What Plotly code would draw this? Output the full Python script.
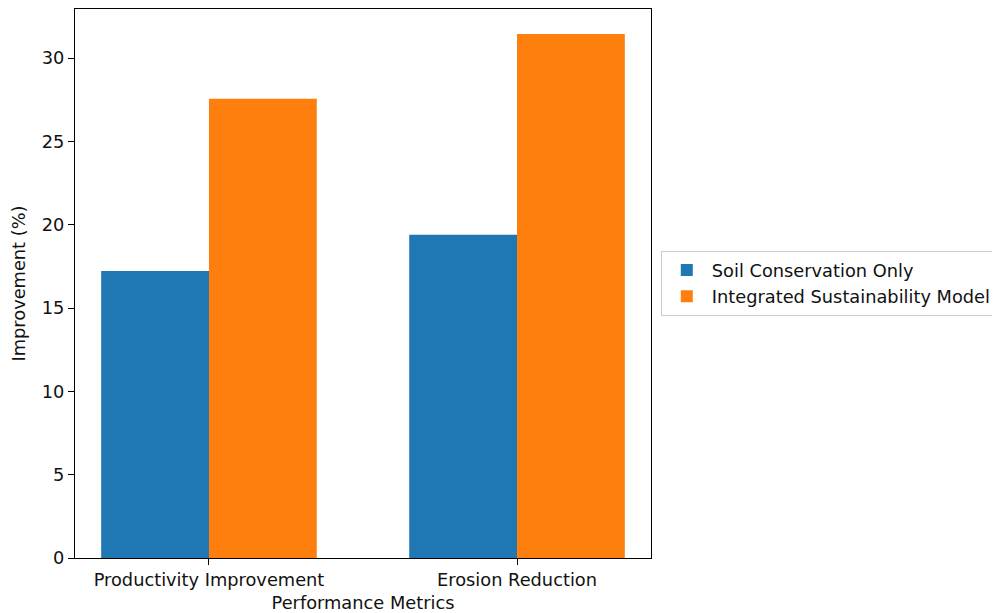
import plotly.graph_objects as go

categories = ["Productivity Improvement", "Erosion Reduction"]
soil_only = [17.22, 19.40]
integrated = [27.56, 31.45]
series_names = ["Soil Conservation Only", "Integrated Sustainability Model"]
y_ticks = [0, 5, 10, 15, 20, 25, 30]

FS = 17.8

fig = go.Figure()
fig.add_trace(go.Bar(x=categories, y=soil_only, name=series_names[0],
                     marker=dict(color="#1f77b4", line=dict(width=0))))
fig.add_trace(go.Bar(x=categories, y=integrated, name=series_names[1],
                     marker=dict(color="#ff7f0e", line=dict(width=0))))

fig.update_layout(
    width=1000, height=613,
    margin=dict(l=67, r=357, t=1, b=63),
    paper_bgcolor="white", plot_bgcolor="white",
    font=dict(family="DejaVu Sans", size=FS, color="#111"),
    barmode="group", bargap=0.3, bargroupgap=0,
    legend=dict(x=1.017, y=0.5, xanchor="left", yanchor="middle",
                bordercolor="#cccccc", borderwidth=1, bgcolor="white",
                font=dict(size=FS), tracegroupgap=0, itemwidth=40),
    showlegend=True,
)
fig.update_xaxes(
    type="category", range=[-0.435, 1.435],
    showline=True, linecolor="black", linewidth=1, mirror=True,
    ticks="outside", ticklen=6, tickcolor="black", showgrid=False,
    tickfont=dict(size=FS),
    title=dict(text="Performance Metrics", standoff=7, font=dict(size=FS)),
)
fig.update_yaxes(
    range=[0, 32.95], tickvals=y_ticks,
    showline=True, linecolor="black", linewidth=1, mirror=True,
    ticks="outside", ticklen=6, tickcolor="black", showgrid=False, zeroline=False,
    tickfont=dict(size=FS),
    title=dict(text="Improvement (%)", standoff=12, font=dict(size=FS)),
)

fig.write_html("out.html")
